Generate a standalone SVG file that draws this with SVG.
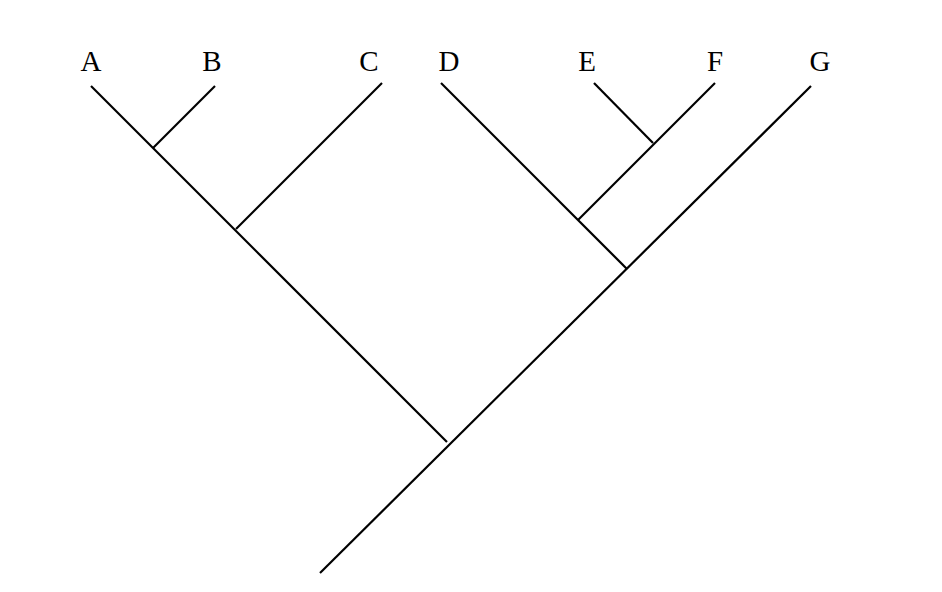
<svg xmlns="http://www.w3.org/2000/svg" width="942" height="592" viewBox="0 0 942 592">
<style>
.l{stroke:#000;stroke-width:2.2;fill:none;stroke-linecap:butt}
.t{font-family:"Liberation Serif",serif;font-size:29px;text-anchor:middle;fill:#000}
</style>
<rect width="942" height="592" fill="#fff"/>
<g id="connectors">
<line class="l" x1="91" y1="86" x2="447" y2="442"/>
<line class="l" x1="320" y1="573" x2="811" y2="86"/>
<line class="l" x1="215" y1="86" x2="153" y2="148"/>
<line class="l" x1="382" y1="83" x2="236" y2="229"/>
<line class="l" x1="441" y1="83" x2="627" y2="269"/>
<line class="l" x1="715" y1="83" x2="578" y2="220"/>
<line class="l" x1="594" y1="83" x2="653" y2="143"/>
</g>
<g id="A"><text class="t" x="91" y="71">A</text></g>
<g id="B"><text class="t" x="212" y="71">B</text></g>
<g id="C"><text class="t" x="369" y="71">C</text></g>
<g id="D"><text class="t" x="449" y="71">D</text></g>
<g id="E"><text class="t" x="587" y="71">E</text></g>
<g id="F"><text class="t" x="715" y="71">F</text></g>
<g id="G"><text class="t" x="820" y="71">G</text></g>
</svg>
